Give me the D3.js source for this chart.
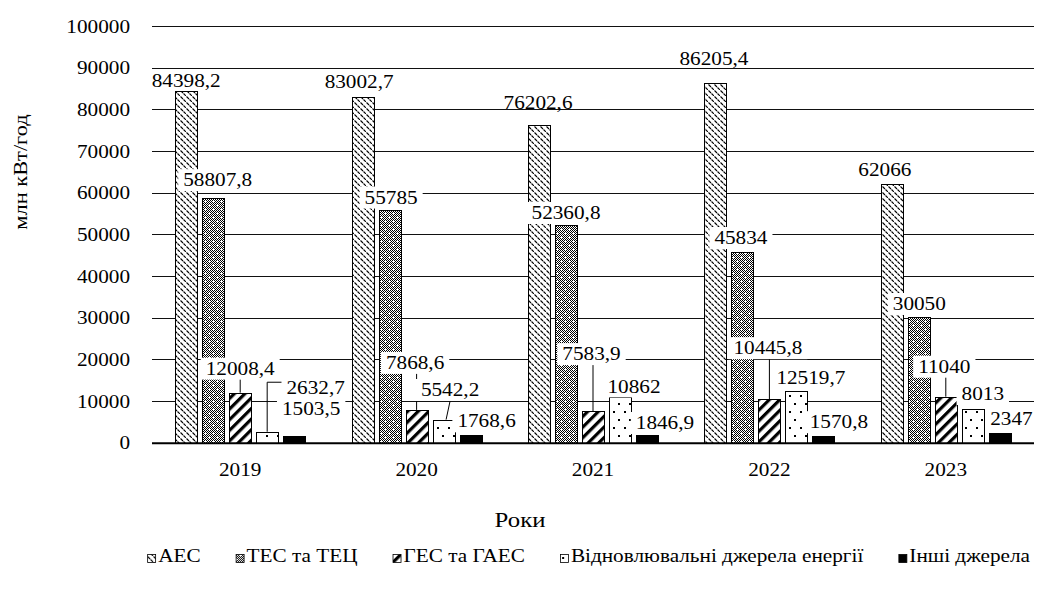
<!DOCTYPE html>
<html>
<head>
<meta charset="utf-8">
<script src="https://cdn.jsdelivr.net/npm/d3@7"></script>
<style>
  html, body { margin: 0; padding: 0; background: #fff; }
  svg { display: block; }
</style>
</head>
<body>
<svg id="chart" width="1040" height="590" font-family="Liberation Serif"></svg>
<script>
// Electricity generation by source, млн кВт/год
const years = ["2019", "2020", "2021", "2022", "2023"];
const seriesNames = ["АЕС", "ТЕС та ТЕЦ", "ГЕС та ГАЕС", "Відновлювальні джерела енергії", "Інші джерела"];
const aes = [84398.2, 83002.7, 76202.6, 86205.4, 62066];
const tes = [58807.8, 55785, 52360.8, 45834, 30050];
const ges = [12008.4, 7868.6, 7583.9, 10445.8, 11040];
const ren = [2632.7, 5542.2, 10862, 12519.7, 8013];
const oth = [1503.5, 1768.6, 1846.9, 1570.8, 2347];
const yTicks = [0, 10000, 20000, 30000, 40000, 50000, 60000, 70000, 80000, 90000, 100000];
const yTitle = "млн кВт/год";
const xTitle = "Роки";

// Label placement relative to the top centre of each bar: [dx, dy, leader, boxed]
const labelPlacement = [
  [[0, -10, "", 0], [-3.5, -15, "", 0], [-1, -22, "", 0], [-1.5, -24.5, "", 0], [-7, -14, "", 0]],
  [[4.5, -17.5, "", 1], [1.5, -12.7, "", 1], [0, -11.5, "", 1], [-1.5, -13.7, "", 1], [0.5, -13.5, "", 1]],
  [[0, -24, "v", 1], [-1.5, -47, "v", 1], [-1.5, -57, "v", 1], [-1.5, -51, "v", 1], [-1.5, -30, "v", 1]],
  [[48.5, -43.5, "elbow", 1], [6.5, -29.6, "slant", 1], [14, -11, "", 1], [14.5, -12.5, "", 1], [10, -15.3, "", 1]],
  [[17, -28, "", 1], [16, -14, "", 1], [18, -12, "", 1], [15.5, -14, "", 1], [11.7, -14, "", 1]]
];

const seriesValues = [aes, tes, ges, ren, oth];
const FONT = "Liberation Serif";
const FS = 18;      // base font size
const SX = 1.18;    // horizontal stretch of the typeface

const svg = d3.select("#chart");
const margin = { left: 152, right: 1034, top: 26, bottom: 442.7 };

const x0 = d3.scaleBand().domain(years).range([margin.left, margin.right]).padding(0);
const groupPad = 23.25;
const x1 = d3.scaleBand().domain(d3.range(seriesNames.length))
  .range([groupPad, x0.bandwidth() - groupPad]).paddingInner(5 / 27).paddingOuter(0);
const y = d3.scaleLinear().domain([0, 100000]).range([margin.bottom, margin.top]);

// ---------- fill patterns ----------
const defs = svg.append("defs");

// АЕС: short back-slash dashes on white
const pA = defs.append("pattern").attr("id", "pat0").attr("patternUnits", "userSpaceOnUse")
  .attr("width", 6).attr("height", 6);
pA.append("rect").attr("width", 6).attr("height", 6).attr("fill", "#fff");
pA.append("path").attr("d", "M0.5,0.5L3,3 M3.5,3.5L6,6").attr("stroke", "#000").attr("stroke-width", 1.1);

// ТЕС: fine checker with light specks
const pT = defs.append("pattern").attr("id", "pat1").attr("patternUnits", "userSpaceOnUse")
  .attr("width", 8).attr("height", 8);
pT.append("rect").attr("width", 8).attr("height", 8).attr("fill", "#fff");
let cells = "";
for (let i = 0; i < 8; i++) for (let j = 0; j < 8; j++) {
  const speck = (i === 5 && j === 1) || (i === 1 && j === 5);
  if ((i + j) % 2 === 0 && !speck) cells += `M${i},${j}h1v1h-1z`;
}
pT.append("path").attr("d", cells).attr("fill", "#000");
pT.append("rect").attr("x", 5).attr("y", 1).attr("width", 2).attr("height", 1).attr("fill", "#fff");
pT.append("rect").attr("x", 1).attr("y", 5).attr("width", 2).attr("height", 1).attr("fill", "#fff");

// ГЕС: wide forward-slash stripes
const pG = defs.append("pattern").attr("id", "pat2").attr("patternUnits", "userSpaceOnUse")
  .attr("width", 7.5).attr("height", 7.5).attr("patternTransform", "rotate(45)");
pG.append("rect").attr("width", 7.5).attr("height", 7.5).attr("fill", "#fff");
pG.append("rect").attr("width", 3.2).attr("height", 7.5).attr("fill", "#000");

// Відновлювальні: sparse dots on white
const pR = defs.append("pattern").attr("id", "pat3").attr("patternUnits", "userSpaceOnUse")
  .attr("width", 11).attr("height", 16);
pR.append("rect").attr("width", 11).attr("height", 16).attr("fill", "#fff");
pR.append("rect").attr("x", 2).attr("y", 3).attr("width", 2).attr("height", 2).attr("fill", "#000");
pR.append("rect").attr("x", 8).attr("y", 11).attr("width", 2).attr("height", 2).attr("fill", "#000");

// Інші: solid black
const pO = defs.append("pattern").attr("id", "pat4").attr("patternUnits", "userSpaceOnUse")
  .attr("width", 22).attr("height", 20);
pO.append("rect").attr("width", 22).attr("height", 20).attr("fill", "#000");

// ---------- text helper (stretched serif) ----------
function label(g, x, yy, s, anchor, size) {
  const fs = size || FS;
  return g.append("text")
    .attr("transform", `translate(${x},${yy}) scale(${SX},1)`)
    .attr("text-anchor", anchor || "middle")
    .attr("font-family", FONT)
    .attr("font-size", fs)
    .attr("fill", "#000")
    .text(s);
}

// ---------- gridlines & y axis ----------
const grid = svg.append("g");
grid.selectAll("line").data(yTicks.filter(d => d > 0)).join("line")
  .attr("x1", margin.left).attr("x2", margin.right)
  .attr("y1", d => Math.round(y(d)) + 0.5).attr("y2", d => Math.round(y(d)) + 0.5)
  .attr("stroke", "#111").attr("stroke-width", 1.2);

const yAxis = d3.axisLeft(y).tickValues(yTicks).tickSize(0).tickPadding(0).tickFormat(d3.format("d"));
const yg = svg.append("g").attr("transform", `translate(${margin.left - 22},0)`).call(yAxis);
yg.attr("font-family", FONT).attr("font-size", FS);
yg.select(".domain").remove();
yg.selectAll(".tick text")
  .attr("x", null).attr("y", null).attr("dy", null)
  .attr("fill", "#000")
  .attr("transform", `translate(0,${FS * 0.34}) scale(${SX},1)`);

// ---------- bars ----------
const bars = svg.append("g");
years.forEach((yr, i) => {
  seriesValues.forEach((vals, s) => {
    const bx = x0(yr) + x1(s);
    bars.append("rect")
      .attr("x", Math.round(bx) + 0.5)
      .attr("y", Math.round(y(vals[i])) + 0.5)
      .attr("width", Math.round(x1.bandwidth()))
      .attr("height", Math.round(y(0)) - Math.round(y(vals[i])))
      .attr("fill", `url(#pat${s})`)
      .attr("stroke", "#000").attr("stroke-width", 1);
  });
});

// x axis line
svg.append("line")
  .attr("x1", margin.left).attr("x2", margin.right)
  .attr("y1", y(0) + 0.5).attr("y2", y(0) + 0.5)
  .attr("stroke", "#000").attr("stroke-width", 2);

// year labels
const xg = svg.append("g");
years.forEach(yr => label(xg, x0(yr) + x0.bandwidth() / 2, 476, yr, "middle"));

// ---------- data labels ----------
const fmt = v => String(v).replace(".", ",");
const lab = svg.append("g");
seriesValues.forEach((vals, s) => {
  vals.forEach((v, i) => {
    const [dx, dy, leader, boxed] = labelPlacement[s][i];
    const bcx = x0(years[i]) + x1(s) + x1.bandwidth() / 2;
    const by = y(v);
    const cx = bcx + dx, cy = by + dy;
    const g = lab.append("g");
    const t = label(g, cx, cy + FS * 0.34, fmt(v), "middle");
    const w = t.node().getComputedTextLength() * SX;
    const bw = w + 10, bh = 22;
    if (boxed) {
      g.insert("rect", "text")
        .attr("x", cx - bw / 2).attr("y", cy - bh / 2)
        .attr("width", bw).attr("height", bh).attr("fill", "#fff");
    }
    if (leader === "v") {
      g.append("line").attr("x1", bcx).attr("x2", bcx).attr("y1", by).attr("y2", cy + bh / 2)
        .attr("stroke", "#000").attr("stroke-width", 1);
    } else if (leader === "elbow") {
      g.append("path")
        .attr("d", `M${bcx},${by}V${cy - 6}H${cx - bw / 2}`)
        .attr("fill", "none").attr("stroke", "#000").attr("stroke-width", 1);
    } else if (leader === "slant") {
      g.append("line").attr("x1", bcx + 2.5).attr("x2", cx).attr("y1", by).attr("y2", cy + bh / 2)
        .attr("stroke", "#000").attr("stroke-width", 1);
    }
  });
});

// ---------- axis titles ----------
svg.append("text")
  .attr("transform", `translate(27,172) rotate(-90) scale(${SX},1)`)
  .attr("text-anchor", "middle")
  .attr("font-family", FONT)
  .attr("font-size", 19)
  .attr("fill", "#000")
  .text(yTitle);

label(svg, 520, 527, xTitle, "middle", 21);

// ---------- legend ----------
const leg = svg.append("g");
let cursor = 0;
const keySize = 8, keyGap = 3, itemGap = 35;
seriesNames.forEach((name, s) => {
  const g = leg.append("g");
  g.append("rect").attr("x", cursor + 0.5).attr("y", -keySize + 0.5)
    .attr("width", keySize).attr("height", keySize)
    .attr("fill", `url(#pat${s})`).attr("stroke", "#000").attr("stroke-width", 0.8);
  const t = label(g, cursor + keySize + keyGap, 0, name, "start");
  const w = t.node().getComputedTextLength() * SX;
  cursor += keySize + keyGap + w + itemGap;
});
const total = cursor - itemGap;
const legRight = 1030;
leg.attr("transform", `translate(${legRight - total},562)`);
</script>
</body>
</html>
